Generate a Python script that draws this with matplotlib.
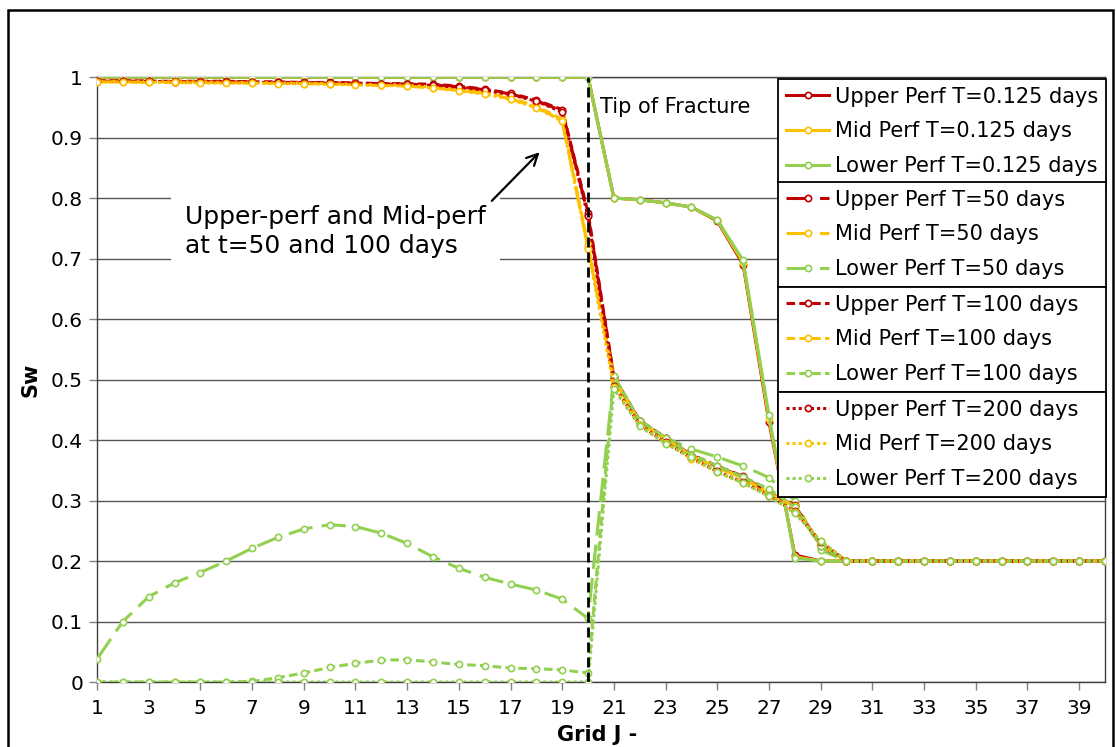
import numpy as np
import matplotlib.pyplot as plt
from matplotlib.patches import Rectangle

# ---------------------------------------------------------------------------
# Data: Sw per grid block J (1..40), three perforations, four times.
# ---------------------------------------------------------------------------
grid_j = np.arange(1, 41)

upper_0125 = [1.0] * 20 + [0.800, 0.797, 0.792, 0.785, 0.762, 0.690, 0.430, 0.210, 0.200] + [0.2] * 11
mid_0125 = [1.0] * 20 + [0.800, 0.797, 0.792, 0.785, 0.763, 0.693, 0.435, 0.207, 0.200] + [0.2] * 11
lower_0125 = [1.0] * 20 + [0.800, 0.797, 0.792, 0.785, 0.764, 0.697, 0.441, 0.205, 0.200] + [0.2] * 11

upper_50 = [0.993, 0.993, 0.993, 0.992, 0.992, 0.992, 0.992, 0.991, 0.991, 0.990,
            0.990, 0.989, 0.988, 0.987, 0.984, 0.979, 0.972, 0.961, 0.944, 0.772,
            0.503, 0.431, 0.403, 0.375, 0.356, 0.339, 0.313, 0.291, 0.226] + [0.2] * 11
mid_50 = [0.992, 0.992, 0.991, 0.991, 0.991, 0.991, 0.990, 0.990, 0.989, 0.989,
          0.988, 0.986, 0.985, 0.982, 0.978, 0.973, 0.964, 0.950, 0.928, 0.718,
          0.500, 0.429, 0.401, 0.373, 0.354, 0.337, 0.311, 0.290, 0.228] + [0.2] * 11
lower_50 = [0.038, 0.100, 0.141, 0.164, 0.181, 0.200, 0.221, 0.239, 0.253, 0.260,
            0.257, 0.246, 0.229, 0.207, 0.188, 0.173, 0.162, 0.152, 0.137, 0.105,
            0.505, 0.432, 0.404, 0.385, 0.372, 0.357, 0.338, 0.300, 0.218] + [0.2] * 11

upper_100 = [0.994, 0.994, 0.993, 0.993, 0.993, 0.993, 0.992, 0.992, 0.991, 0.991,
             0.990, 0.989, 0.989, 0.988, 0.985, 0.980, 0.973, 0.962, 0.946, 0.776,
             0.504, 0.432, 0.404, 0.376, 0.357, 0.340, 0.314, 0.292, 0.225] + [0.2] * 11
mid_100 = [0.993, 0.993, 0.992, 0.992, 0.992, 0.991, 0.991, 0.990, 0.990, 0.989,
           0.988, 0.987, 0.987, 0.983, 0.979, 0.975, 0.965, 0.952, 0.930, 0.722,
           0.501, 0.430, 0.402, 0.374, 0.355, 0.338, 0.312, 0.291, 0.227] + [0.2] * 11
lower_100 = [0.0] * 6 + [0.001, 0.007, 0.015, 0.024, 0.031, 0.036, 0.037, 0.033, 0.029, 0.027,
                         0.023, 0.022, 0.020, 0.015,
                         0.505, 0.432, 0.404, 0.376, 0.357, 0.339, 0.319, 0.289, 0.225] + [0.2] * 11

upper_200 = [0.993, 0.993, 0.993, 0.992, 0.992, 0.992, 0.991, 0.991, 0.990, 0.990,
             0.989, 0.988, 0.988, 0.986, 0.983, 0.978, 0.971, 0.960, 0.942, 0.770,
             0.490, 0.425, 0.396, 0.370, 0.348, 0.330, 0.308, 0.282, 0.232] + [0.2] * 11
mid_200 = [0.992, 0.992, 0.991, 0.991, 0.990, 0.990, 0.990, 0.989, 0.989, 0.988,
           0.987, 0.986, 0.985, 0.982, 0.977, 0.972, 0.963, 0.949, 0.927, 0.716,
           0.488, 0.424, 0.395, 0.369, 0.347, 0.329, 0.307, 0.281, 0.233] + [0.2] * 11
lower_200 = [0.0] * 20 + [0.484, 0.423, 0.394, 0.372, 0.347, 0.329, 0.308, 0.279, 0.233] + [0.2] * 11

time_labels = ["0.125", "50", "100", "200"]
perf_names = ["Upper Perf", "Mid Perf", "Lower Perf"]
series = [
    [upper_0125, mid_0125, lower_0125],
    [upper_50, mid_50, lower_50],
    [upper_100, mid_100, lower_100],
    [upper_200, mid_200, lower_200],
]

# ---------------------------------------------------------------------------
# Styles: solid / long dash / dash / round dot, as in the Excel original
# ---------------------------------------------------------------------------
perf_colors = ["#C00000", "#FFC000", "#92D050"]
time_styles = ["-", (0, (8.0, 3.0)), (0, (2.8, 1.4)), (0, (1, 1))]
LW = 2.2

plt.rcParams["font.family"] = "DejaVu Sans"

fig = plt.figure(figsize=(11.16, 7.47), dpi=100)
ax = fig.add_axes([0.0869, 0.0870, 0.9032, 0.8099])

legend_groups = []
for t, style, group in zip(time_labels, time_styles, series):
    handles = []
    for name, color, values in zip(perf_names, perf_colors, group):
        (h,) = ax.plot(grid_j, values, linestyle=style, color=color, lw=LW,
                       marker="o", markersize=4.5, markerfacecolor="white",
                       markeredgecolor=color, markeredgewidth=1.2,
                       label=f"{name} T={t} days", zorder=3)
        handles.append(h)
    legend_groups.append(handles)

# fracture tip
ax.axvline(20, color="black", lw=2, linestyle=(0, (3.6, 1.8)), zorder=4)

ax.set_xlim(1, 40)
ax.set_ylim(0, 1)
ax.set_xticks(np.arange(1, 40, 2))
ax.set_yticks(np.arange(0, 1.01, 0.1))
ax.set_yticklabels(["0", "0.1", "0.2", "0.3", "0.4", "0.5", "0.6", "0.7", "0.8", "0.9", "1"])
ax.tick_params(axis="both", labelsize=14.5, colors="#808080", labelcolor="black",
               length=6, width=1)
ax.tick_params(axis="x", pad=6)
ax.tick_params(axis="y", pad=4)
ax.grid(axis="y", color="#555555", lw=1)
ax.set_axisbelow(True)
for sp in ax.spines.values():
    sp.set_color("#404040")
    sp.set_linewidth(1)

ax.set_xlabel("Grid J -", fontsize=15, fontweight="bold")
ax.set_ylabel("Sw", fontsize=15, fontweight="bold")
ax.xaxis.set_label_coords(0.496, -0.071)
ax.yaxis.set_label_coords(-0.056, 0.5)

# annotations
ax.text(20.46, 0.950, "Tip of Fracture", fontsize=15, ha="left", va="center", zorder=5)
ax.text(4.4, 0.745, "Upper-perf and Mid-perf\nat t=50 and 100 days", fontsize=18,
        ha="left", va="center", linespacing=1.25, zorder=5,
        bbox=dict(facecolor="white", edgecolor="none", pad=10))
ax.annotate("", xy=(18.2, 0.879), xytext=(16.2, 0.792),
            arrowprops=dict(arrowstyle="->", color="black", lw=1.6,
                            mutation_scale=20), zorder=5)

# four stacked legend boxes, one per time step
tops = [0.9967, 0.8264, 0.6529, 0.4793]
for top, handles in zip(tops, legend_groups):
    leg = ax.legend(handles=handles, loc="upper left",
                    bbox_to_anchor=(0.6756, top, 0.3254, 0), mode="expand",
                    borderaxespad=0, fontsize=15, handlelength=2.1,
                    handletextpad=0.25, labelspacing=0.70, borderpad=0.37,
                    fancybox=False, framealpha=1, edgecolor="black")
    leg.get_frame().set_linewidth(1.3)
    leg.set_zorder(6)
    ax.add_artist(leg)

# chart area border
fig.patches.append(Rectangle((8 / 1116, -0.02), 1105 / 1116, 1 - 10 / 747 + 0.02,
                             transform=fig.transFigure, fill=False,
                             edgecolor="black", lw=1.8))

fig.savefig("out.png", dpi=100)
